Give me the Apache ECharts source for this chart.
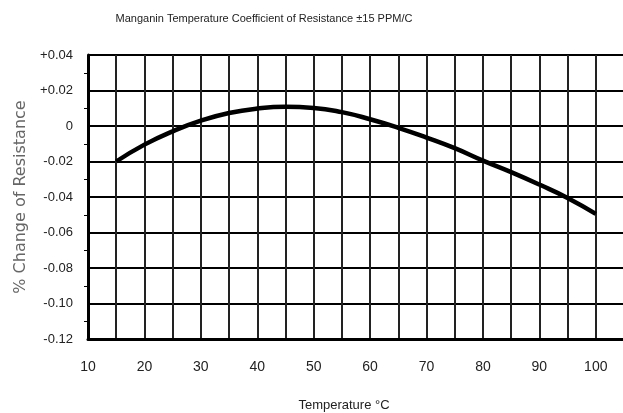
<!DOCTYPE html>
<html>
<head>
<meta charset="utf-8">
<script src="https://cdn.jsdelivr.net/npm/echarts@6/dist/echarts.min.js"></script>
<style>html,body{margin:0;padding:0;background:#fff}#c{width:623px;height:413px}</style>
</head>
<body>
<div id="c"></div>
<script>
var temperatures = [15, 20, 25, 30, 35, 40, 45, 50, 55, 60, 65, 70, 75, 80, 85, 90, 95, 100];
var changePct = [-0.020, -0.0105, -0.003, 0.003, 0.0073, 0.0098, 0.0108, 0.0102, 0.0078, 0.0038, -0.001, -0.0065, -0.0125, -0.0195, -0.026, -0.033, -0.0405, -0.0495];
var xTickLabels = [10, 20, 30, 40, 50, 60, 70, 80, 90, 100];
var titleText = 'Manganin Temperature Coefficient of Resistance \u00b115 PPM/C';
var xName = 'Temperature \u00b0C';
var yName = '% Change of Resistance';

var chart = echarts.init(document.getElementById('c'), null, {renderer: 'canvas'});
var sans = '"Liberation Sans", Arial, sans-serif';
chart.setOption({
  animation: false,
  backgroundColor: '#fff',
  title: {
    text: titleText, left: 259, top: 8, textAlign: 'center',
    textStyle: {fontFamily: sans, fontSize: 11, fontWeight: 'normal', color: '#222'}
  },
  grid: {left: 88, top: 55, width: 536, height: 284, containLabel: false, outerBoundsMode: 'none'},
  xAxis: {
    type: 'value', min: 10, max: 105, interval: 5,
    name: xName, nameLocation: 'middle', nameGap: 60,
    nameTextStyle: {fontFamily: sans, fontSize: 13, color: '#222', padding: [0, 24, 0, 0]},
    axisLine: {show: true, onZero: false, lineStyle: {color: '#000', width: 3}},
    axisTick: {show: false},
    axisLabel: {
      margin: 21, fontFamily: sans, fontSize: 14, color: '#222',
      formatter: function (v) { return xTickLabels.indexOf(v) >= 0 ? String(v) : ''; }
    },
    splitLine: {show: true, lineStyle: {color: '#222', width: 2}}
  },
  yAxis: {
    type: 'value', min: -0.12, max: 0.04, interval: 0.02,
    name: yName, nameLocation: 'middle', nameGap: 59, nameRotate: 90,
    nameTextStyle: {fontFamily: '"DejaVu Sans", sans-serif', fontSize: 16, color: '#666'},
    axisLine: {show: true, onZero: false, lineStyle: {color: '#000', width: 3}},
    axisTick: {show: false},
    minorTick: {show: true, splitNumber: 2, length: 4, lineStyle: {color: '#000', width: 1}},
    axisLabel: {
      margin: 15, fontFamily: sans, fontSize: 13, color: '#222',
      formatter: function (v) {
        var r = Math.round(v * 100) / 100;
        if (r === 0) return '0';
        return (r > 0 ? '+' : '') + r.toFixed(2);
      }
    },
    splitLine: {show: true, lineStyle: {color: '#000', width: 2}}
  },
  series: [{
    type: 'line',
    data: temperatures.map(function (t, i) { return [t, changePct[i]]; }),
    smooth: true,
    symbol: 'none',
    lineStyle: {color: '#000', width: 4.5}
  }]
});
</script>
</body>
</html>
